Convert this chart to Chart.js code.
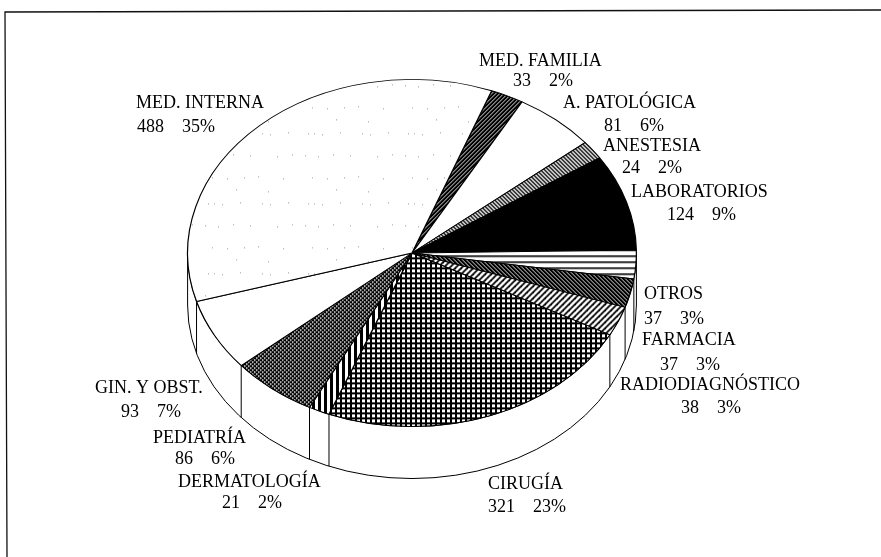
<!DOCTYPE html>
<html>
<head>
<meta charset="utf-8">
<style>html,body{margin:0;padding:0;background:#fff}canvas{display:block}</style>
<script src="https://cdn.jsdelivr.net/npm/chart.js@4/dist/chart.umd.min.js"></script>
</head>
<body>
<canvas id="c" width="881" height="557"></canvas>
<script>
const categories = ["MED. FAMILIA","A. PATOLÓGICA","ANESTESIA","LABORATORIOS","OTROS","FARMACIA","RADIODIAGNÓSTICO","CIRUGÍA","DERMATOLOGÍA","PEDIATRÍA","GIN. Y OBST.","MED. INTERNA"];
const counts = [33,81,24,124,37,37,38,321,21,86,93,488];
const percents = ["2%","6%","2%","9%","3%","3%","3%","23%","2%","6%","7%","35%"];

// label anchors: [left x of name, centre y of name, left x of values, centre y of values]
const labelAt = [
  [479,61,513,81],[563,103,604,126],[603,146,622,168],[631,192,667,215],
  [644,294,644,319],[642,340,660,365],[620,385,681,408],[488,484,488,507],
  [178,482,222,503],[153,438,175,459],[95,388,121,412],[136,103,137,127]
];
const CX=412, CY=253, RX=225, RY=174, DEPTH=52;
const SQUASH=RY/RX;

function tile(w,h,draw){
  const t=document.createElement('canvas');t.width=w;t.height=h;
  const g=t.getContext('2d');g.fillStyle='#fff';g.fillRect(0,0,w,h);g.fillStyle='#000';g.strokeStyle='#000';
  draw(g,w,h);
  const p=document.createElement('canvas').getContext('2d').createPattern(t,'repeat');
  p.setTransform(new DOMMatrix().scale(1,1/SQUASH));
  return p;
}
function diag(g,s,lw,dir,col){
  g.strokeStyle=col;g.lineWidth=lw;
  for(let i=-2;i<=2;i++){g.beginPath();
    if(dir>0){g.moveTo(i*s-s,s+s);g.lineTo(i*s+s+s,-s);}else{g.moveTo(i*s-s,-s);g.lineTo(i*s+s+s,s+s);}
    g.stroke();}
}
const specks=[[8,6],[14,6],[22,7],[40,5],[62,6],[70,7],[88,5],[5,28],[18,29],[33,27],[50,28],[77,29],[92,27],[12,50],[27,51],[44,50],[58,49],[83,51],[36,62],[68,64]];
const fills=[
  tile(4,4,(g)=>{g.fillStyle='#000';g.fillRect(0,0,4,4);diag(g,4,0.85,1,'#fff');}),
  '#ffffff',
  tile(4,4,(g)=>{diag(g,4,1.4,-1,'#000');}),
  '#000000',
  tile(4,6,(g)=>{g.fillRect(0,0,4,1.6);}),
  tile(4,4,(g)=>{g.fillStyle='#000';g.fillRect(0,0,4,4);diag(g,4,0.85,-1,'#fff');}),
  tile(6,6,(g)=>{diag(g,6,1.8,1,'#000');}),
  tile(5,5,(g)=>{g.fillRect(0,0,5,2);g.fillRect(0,0,2,5);}),
  tile(6,4,(g)=>{g.fillRect(0,0,3,4);}),
  tile(4,4,(g)=>{g.fillStyle='#000';g.fillRect(0,0,4,4);g.fillStyle='#fff';g.fillRect(0,0,1.5,1.5);g.fillRect(2,2,1.5,1.5);}),
  '#ffffff',
  tile(100,70,(g)=>{g.fillStyle='#9a9a9a';specks.forEach(s=>g.fillRect(s[0],s[1],1,1));})
];

const perspective={
  id:'perspective',
  beforeDatasetsDraw(chart){
    const ctx=chart.ctx, arcs=chart.getDatasetMeta(0).data;
    const cx=arcs[0].x, cy=arcs[0].y, r=arcs[0].outerRadius, ry=r*SQUASH;
    ctx.save();
    // side wall
    ctx.fillStyle='#fff';ctx.strokeStyle='#000';ctx.lineWidth=1;
    ctx.beginPath();
    ctx.ellipse(cx,cy,r,ry,0,0,Math.PI);
    ctx.lineTo(cx-r,cy+DEPTH);
    ctx.ellipse(cx,cy+DEPTH,r,ry,0,Math.PI,0,true);
    ctx.closePath();ctx.fill();ctx.stroke();
    arcs.forEach(a=>{
      const s=Math.sin(a.endAngle);
      if(s>0){const x=cx+r*Math.cos(a.endAngle), y=cy+ry*s;
        ctx.beginPath();ctx.moveTo(x,y);ctx.lineTo(x,y+DEPTH);ctx.stroke();}
    });
    ctx.restore();
    ctx.save();
    ctx.translate(cx,cy);ctx.scale(1,SQUASH);ctx.translate(-cx,-cy);
  },
  afterDatasetsDraw(chart){ chart.ctx.restore(); },
  afterDraw(chart){
    const ctx=chart.ctx;
    ctx.save();
    // page frame
    ctx.strokeStyle='#111';ctx.lineWidth=1.3;
    ctx.beginPath();ctx.moveTo(7,557);ctx.lineTo(5,12);ctx.lineTo(881,10);ctx.stroke();
    // labels
    ctx.fillStyle='#000';ctx.font='18px "Liberation Serif"';ctx.textAlign='left';ctx.textBaseline='middle';
    categories.forEach((n,i)=>{
      const p=labelAt[i];
      ctx.fillText(n,p[0],p[1]);
      ctx.fillText(counts[i]+'\u00a0\u00a0\u00a0\u00a0'+percents[i],p[2],p[3]);
    });
    ctx.restore();
  }
};

new Chart(document.getElementById('c'),{
  type:'pie',
  data:{labels:categories,datasets:[{data:counts,backgroundColor:fills,borderColor:'#000',borderWidth:1.2,hoverOffset:0,offset:0,clip:false}]},
  options:{
    responsive:false,animation:false,rotation:20.8,
    layout:{padding:{left:CX-RX,right:881-CX-RX,top:CY-RX,bottom:557-CY-RX}},
    plugins:{legend:{display:false},tooltip:{enabled:false}},
    events:[]
  },
  plugins:[perspective]
});
</script>
</body>
</html>
